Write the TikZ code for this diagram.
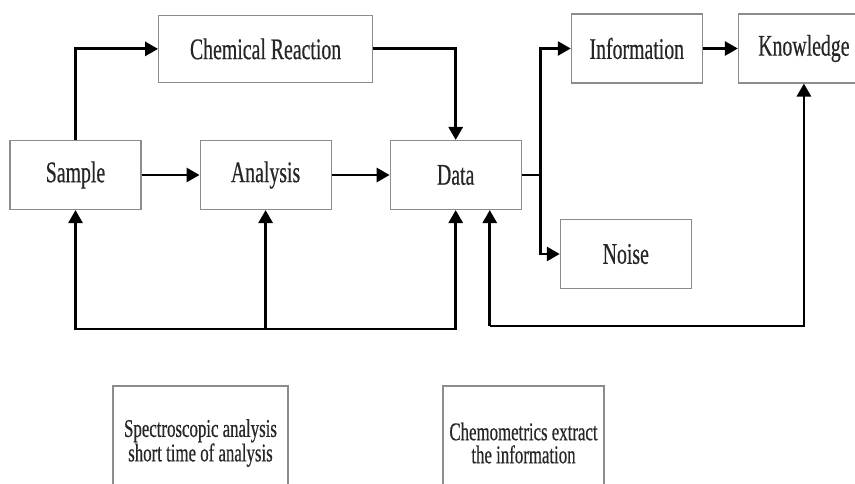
\documentclass[tikz,border=0pt]{standalone}
\usepackage{fontspec}
\setmainfont{Liberation Serif}[FakeStretch=0.66, FakeBold=0.5]
\usepackage{tikz}
\usetikzlibrary{positioning,arrows.meta}

\tikzset{
  blk/.style={draw=gray!90, line width=1.1pt, minimum width=131pt, minimum height=69pt,
    inner sep=0pt, font=\fontsize{30}{32}\selectfont, text=black!85},
  note/.style={blk, align=center, minimum height=114pt, font=\fontsize{25.5}{23}\selectfont},
  arrow/.style={line width=2.8pt, -{Triangle[length=13pt,width=14pt]}},
  line/.style={line width=2.8pt}
}

\begin{document}
\begin{tikzpicture}[x=1pt, y=1pt, node distance=58pt]
\path[use as bounding box] (0,0) rectangle (855,-484);
\clip (0,0) rectangle (855,-484);

%% main row
\node[blk](Sample) at (75.5,-175){Sample};
\node[blk, right=of Sample](Analysis){Analysis};
\node[blk, right=of Analysis](Data){Data};

\node[blk, above=57pt of Analysis, minimum width=214pt, minimum height=67pt](Reaction){Chemical Reaction};

%% outputs
\node[blk, right=49pt of Data, yshift=126.5pt](Information){Information};
\node[blk, right=35pt of Information](Knowledge){Knowledge};
\node[blk, right=38pt of Data, yshift=-79pt](Noise){Noise};

%% notes
\node[note, minimum width=175pt](spec) at (200.5,-443){Spectroscopic analysis\\short time of analysis};
\node[note, minimum width=161pt](chemo) at (523.5,-443){Chemometrics extract\\the information};

%% helper points
\coordinate[below=119pt of Analysis.south](fbA);
\coordinate[right=19pt of Data.east](split);
\coordinate[below=116pt of Data.south east, xshift=-32pt](fbK);

\draw[arrow] (Sample.north) |- (Reaction.west);
\draw[arrow] (Reaction.east) -| (Data.north);

\draw[arrow] (Sample) -- (Analysis);
\draw[arrow] (Analysis) -- (Data);

\draw[arrow] (fbA) -- (Analysis.south);
\draw[arrow] (fbA) -| (Sample.south);
\draw[arrow] (fbA) -| (Data.south);

\draw[line] (Data.east) -- (split);
\draw[arrow] (split) |- (Information.west);
\draw[arrow] (split) |- (Noise.west);

\draw[arrow] (Information) -- (Knowledge);

\draw[arrow] (fbK) -| (Knowledge.south);
\draw[arrow] (fbK) -- ([xshift=-32pt]Data.south east);

\end{tikzpicture}
\end{document}
